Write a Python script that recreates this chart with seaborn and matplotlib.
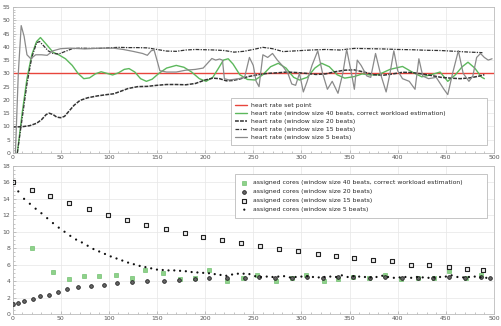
import matplotlib
matplotlib.use("Agg")
import matplotlib.pyplot as plt
from matplotlib.ticker import MultipleLocator
import pandas as pd
import seaborn as sns

# --- top panel: heart rate traces ---
setpoint = 30

hr40_x = [5, 10, 15, 20, 25, 29, 35, 42, 48, 55, 62, 68, 74, 80, 86, 92, 98, 104, 110, 116,
          121, 127, 133, 139, 145, 152, 160, 170, 178, 186, 194, 201, 208, 214, 219, 224, 229,
          236, 244, 252, 260, 268, 276, 284, 292, 298, 306, 314, 321, 329, 337, 345, 355, 363,
          371, 380, 392, 405, 415, 425, 435, 444, 452, 460, 467, 473, 480, 487, 490]
hr40_y = [0, 15, 28, 37, 42, 43.5, 41, 38, 37, 35.5, 33, 30, 28, 28.3, 29.8, 30.6, 30, 29.4, 30.2,
          31.5, 31.8, 30.5, 28, 27, 27.8, 30, 32, 33, 32.3, 30.5, 28, 27, 28.5, 32, 35, 35.5, 33.5,
          29.5, 27.7, 27.5, 29.5, 32.5, 33.8, 32, 28.5, 27.5, 28.5, 32, 33.8, 32.5, 29.5, 28.2,
          28.8, 29.8, 29.4, 29.5, 31.5, 32.6, 30.5, 28.7, 29.5, 30.5, 27, 29.5, 32.5, 34.2, 32,
          28.6, 28]

hr20_x = [0, 10, 18, 25, 30, 35, 38, 42, 46, 50, 54, 58, 64, 70, 78, 88, 98, 105, 112, 120, 130,
          140, 150, 160, 170, 180, 190, 200, 208, 215, 222, 228, 235, 245, 255, 265, 275, 285,
          295, 305, 315, 325, 335, 345, 355, 365, 375, 385, 395, 405, 415, 425, 435, 445, 455,
          465, 475, 485, 490]
hr20_y = [9.8, 9.9, 10.3, 11.2, 12.5, 14.5, 15, 14.5, 13.5, 13.3, 13.8, 15.5, 18, 19.8, 20.8,
          21.5, 22, 22.3, 23.2, 24.3, 25, 25.1, 25.5, 25.8, 25.8, 25.7, 26.2, 27.5, 28.2, 28,
          27.2, 27.3, 27.8, 28.8, 29.5, 30, 30.2, 30.5, 30.3, 30, 29.6, 29.8, 30.6, 31.2, 31.3,
          30.5, 29.5, 29.3, 29.8, 30.4, 30.3, 29.8, 29.2, 28.5, 28.2, 28, 28.3, 29, 29.5]

hr15_x = [5, 10, 15, 20, 25, 28, 32, 37, 42, 48, 55, 62, 70, 80, 90, 100, 110, 120, 130, 140,
          150, 160, 170, 180, 190, 200, 210, 220, 230, 240, 250, 260, 270, 281, 295, 310, 325,
          340, 355, 370, 385, 400, 415, 430, 445, 460, 475, 488]
hr15_y = [0, 13, 26, 36, 41.5, 42, 40.5, 38.5, 37.5, 37.3, 38.3, 39.3, 39.5, 39.4, 39.4, 39.6,
          39.8, 39.7, 39.7, 39.6, 39, 38.4, 38.3, 38.8, 39, 38.9, 38.8, 38.6, 38, 38.3, 39, 39.8,
          39.3, 38.2, 38.5, 38.8, 39, 38.8, 39.4, 39.3, 39.2, 39, 38.9, 38.7, 38.6, 38.3, 38, 37.8]

hr5_x = [3, 6, 9, 12, 15, 19, 24, 30, 36, 42, 50, 60, 75, 90, 105, 115, 125, 135, 140, 144, 147,
         150, 153, 160, 170, 180, 190, 198, 203, 207, 211, 215, 218, 220, 225, 235, 241, 246,
         250, 253, 256, 260, 265, 270, 275, 280, 286, 290, 294, 298, 302, 306, 311, 317, 322,
         327, 332, 338, 343, 347, 352, 355, 358, 362, 368, 372, 377, 382, 388, 392, 396, 400,
         405, 412, 418, 422, 426, 432, 440, 448, 452, 457, 463, 468, 474, 478, 482, 486, 490,
         494, 498]
hr5_y = [0, 30, 48, 44, 37, 35.5, 37, 37, 36.8, 38.5, 39.3, 39.5, 39.2, 39.5, 39.5, 39, 38.3,
         37.5, 36.8, 38.5, 38.8, 35, 31, 30.5, 30.5, 31.2, 31.5, 32, 34, 35.6, 35, 35.4, 35, 28,
         27.5, 28, 28.5, 36, 33, 27, 25, 37, 36, 37.5, 35, 33, 30, 26, 25.5, 30, 23, 27, 33,
         38.5, 30, 24, 27, 22.5, 30, 39, 30, 24, 35, 33, 29, 28.5, 37.5, 30, 23, 30, 38.5, 31,
         28, 27, 24, 35.5, 29, 28, 28.5, 24, 22, 30, 38.5, 30, 27, 29, 36, 37.5, 36, 35, 35.5]

# --- bottom panel: assigned cores ---
c40_x = [0, 20, 42, 59, 74, 90, 107, 124, 138, 156, 174, 189, 204, 223, 239, 254, 274, 290, 305,
         323, 338, 354, 370, 387, 403, 421, 438, 453, 471, 486]
c40_y = [16, 8.0, 5.1, 4.2, 4.66, 4.66, 4.78, 4.4, 5.4, 5.0, 4.3, 4.4, 5.3, 4.0, 4.33, 4.7, 4.0,
         4.4, 4.7, 4.0, 4.3, 4.5, 4.4, 4.8, 4.3, 4.4, 4.4, 5.2, 4.4, 4.7]

c20_x = [0, 6, 12, 21, 29, 38, 47, 57, 68, 81, 95, 109, 124, 140, 157, 173, 189, 204, 223, 241,
         256, 273, 290, 306, 322, 338, 354, 371, 387, 404, 421, 437, 453, 470, 486, 496]
c20_y = [1.18, 1.38, 1.58, 1.86, 2.17, 2.37, 2.65, 3.03, 3.27, 3.43, 3.58, 3.74, 3.86, 3.98,
         4.06, 4.1, 4.22, 4.33, 4.33, 4.4, 4.5, 4.4, 4.4, 4.5, 4.4, 4.5, 4.5, 4.4, 4.5, 4.4, 4.4,
         4.4, 4.45, 4.4, 4.45, 4.4]

c15_x = [0, 20, 39, 59, 79, 99, 119, 139, 159, 179, 198, 218, 237, 257, 277, 296, 317, 336, 355,
         374, 394, 414, 433, 453, 472, 489]
c15_y = [16, 15.08, 14.35, 13.54, 12.77, 12.04, 11.43, 10.83, 10.34, 9.81, 9.4, 9.0, 8.64,
         8.27, 7.9, 7.6, 7.3, 7.07, 6.8, 6.6, 6.4, 5.9, 5.9, 5.7, 5.5, 5.4]

c5_x = [0, 6, 12, 18, 24, 30, 36, 42, 48, 54, 60, 66, 72, 78, 84, 90, 96, 102, 108, 114, 120,
        126, 132, 138, 144, 150, 156, 162, 168, 174, 180, 186, 192, 198, 204, 210, 216, 222, 228,
        234, 240, 246, 252, 258, 264, 270, 276, 282, 288, 294, 300, 306, 312, 318, 324, 330, 336,
        342, 348, 354, 360, 366, 372, 378, 384, 390, 396, 402, 408, 414, 420, 426, 432, 438, 444,
        450, 456, 462, 468, 474, 480, 486, 492]
c5_y = [16, 14.9, 14.0, 13.4, 12.8, 12.25, 11.65, 11.05, 10.5, 10.0, 9.5, 9.05, 8.7, 8.3, 7.9,
        7.6, 7.3, 7.0, 6.75, 6.5, 6.25, 6.05, 5.85, 5.7, 5.55, 5.4, 5.35, 5.3, 5.3, 5.25, 5.2,
        5.1, 5.05, 5.0, 4.95, 4.85, 4.75, 4.65, 4.8, 4.9, 4.9, 4.85, 4.6, 4.5, 4.55, 4.5, 4.55,
        4.6, 4.45, 4.5, 4.55, 4.6, 4.5, 4.45, 4.5, 4.55, 4.5, 4.7, 4.5, 4.6, 4.55, 4.5, 4.45, 4.5,
        4.65, 4.5, 4.4, 4.45, 4.5, 4.4, 4.5, 4.45, 4.4, 4.45, 4.5, 4.55, 4.7, 4.5, 4.45, 4.5,
        4.55, 4.45, 4.4]

sns.set_style("whitegrid")
plt.rcParams["font.family"] = ["DejaVu Sans"]
FS = 4.4
TICKC = "#555555"

fig = plt.figure(figsize=(5.01, 3.26), dpi=100)
ax1 = fig.add_axes([0.025, 0.5307, 0.961, 0.4478])
ax2 = fig.add_axes([0.025, 0.0368, 0.961, 0.4542])

# top panel
sns.lineplot(x=[0, 500], y=[setpoint, setpoint], ax=ax1, color="#e8453c", lw=1.0,
             label="heart rate set point")
sns.lineplot(x=hr40_x, y=hr40_y, ax=ax1, color="#5cb85c", lw=1.0, sort=False,
             label="heart rate (window size 40 beats, correct workload estimation)")
sns.lineplot(x=hr20_x, y=hr20_y, ax=ax1, color="#333333", lw=1.1, sort=False,
             linestyle=(0, (2.5, 0.8)), label="heart rate (window size 20 beats)")
sns.lineplot(x=hr15_x, y=hr15_y, ax=ax1, color="#333333", lw=0.9, sort=False,
             linestyle=(0, (3, 1, 1, 1)), label="heart rate (window size 15 beats)")
sns.lineplot(x=hr5_x, y=hr5_y, ax=ax1, color="#8a8a8a", lw=0.9, sort=False,
             label="heart rate (window size 5 beats)")
ax1.set_xlim(0, 500)
ax1.set_ylim(0, 55)
ax1.yaxis.set_major_locator(MultipleLocator(5))
ax1.yaxis.set_minor_locator(MultipleLocator(1))

# bottom panel
sns.scatterplot(x=c40_x, y=c40_y, ax=ax2, marker="s", s=7, color="#8fd18a",
                edgecolor="#5cb85c", linewidth=0.4, zorder=3,
                label="assigned cores (window size 40 beats, correct workload estimation)")
sns.scatterplot(x=c20_x, y=c20_y, ax=ax2, marker="o", s=7, color="#666666",
                edgecolor="#222222", linewidth=0.6, zorder=3,
                label="assigned cores (window size 20 beats)")
sns.scatterplot(x=c15_x, y=c15_y, ax=ax2, marker="s", s=9, color="#eeeeee",
                edgecolor="#222222", linewidth=0.8, zorder=3,
                label="assigned cores (window size 15 beats)")
sns.scatterplot(x=c5_x, y=c5_y, ax=ax2, marker="o", s=2.5, color="#111111",
                edgecolor="none", zorder=4,
                label="assigned cores (window size 5 beats)")
ax2.set_xlim(0, 500)
ax2.set_ylim(0, 18)
ax2.yaxis.set_major_locator(MultipleLocator(2))
ax2.yaxis.set_minor_locator(MultipleLocator(0.5))

for ax in (ax1, ax2):
    ax.set_xlabel("")
    ax.set_ylabel("")
    ax.xaxis.set_major_locator(MultipleLocator(50))
    ax.xaxis.set_minor_locator(MultipleLocator(10))
    ax.grid(True, which="major", color="#e6e6e6", lw=0.5)
    ax.tick_params(which="both", direction="in", length=2, width=0.4, color="#999999",
                   labelsize=FS, labelcolor=TICKC, pad=1.5, left=True, bottom=True)
    ax.tick_params(which="minor", length=1.2)
    for sp in ax.spines.values():
        sp.set_color("#bbbbbb")
        sp.set_linewidth(0.6)

leg1 = ax1.legend(loc="lower left", bbox_to_anchor=(0.447, 0.036, 0.545, 0.36),
                  mode="expand", fontsize=FS, frameon=True, fancybox=False,
                  edgecolor="#bbbbbb", framealpha=1, handlelength=1.9,
                  handletextpad=0.6, labelspacing=0.45, borderpad=0.75)
leg1.get_frame().set_linewidth(0.6)
leg1.set_zorder(10)
leg2 = ax2.legend(loc="upper left", bbox_to_anchor=(0.456, 0.5, 0.536, 0.466),
                  mode="expand", fontsize=FS, frameon=True, fancybox=False,
                  edgecolor="#bbbbbb", framealpha=1, handlelength=1.0,
                  handletextpad=1.0, labelspacing=0.6, borderpad=1.0)
leg2.get_frame().set_linewidth(0.6)

fig.savefig("out.png", dpi=100)
